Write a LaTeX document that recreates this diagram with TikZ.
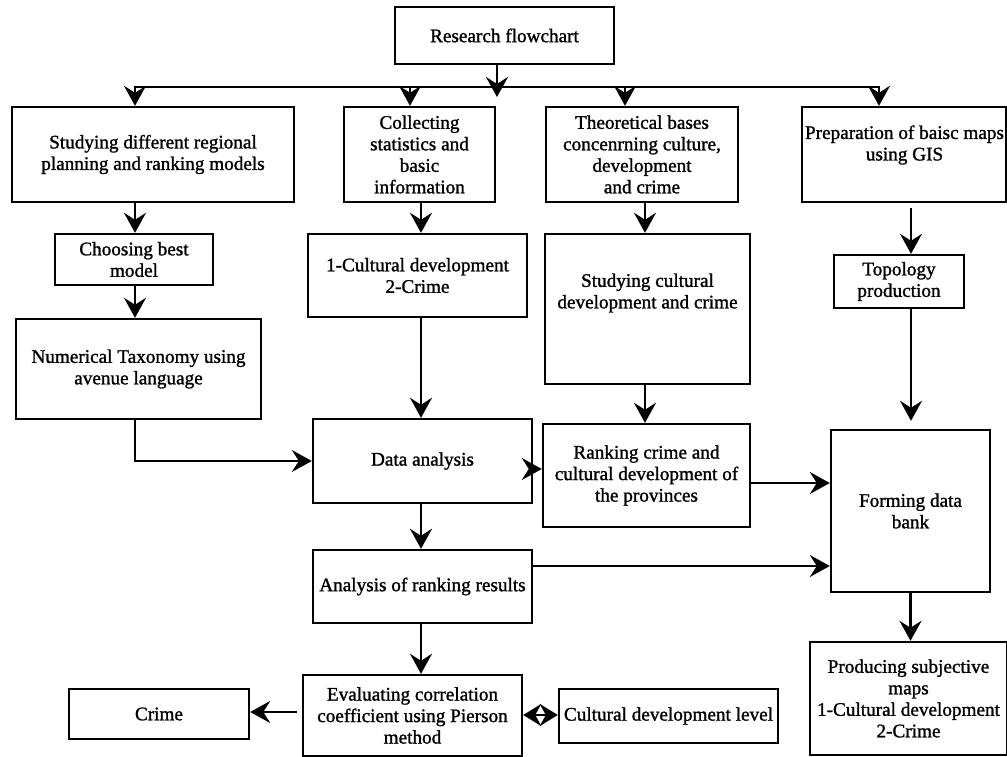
\documentclass[tikz,border=0pt]{standalone}
\usepackage{fontspec}
\setmainfont{Liberation Serif}[FakeBold=1.3]
\usetikzlibrary{arrows.meta}
\tikzset{
  myhead/.tip={Stealth[length=20pt,width=22pt,inset=7pt]},
  dblhead/.tip={Stealth[length=18pt,width=22pt,inset=6pt]},
  box/.style={draw, line width=2.4pt, inner sep=1pt, align=center, font=\fontsize{19.2}{21.5}\selectfont},
  txt/.style={inner sep=0pt, align=center, font=\fontsize{19.2}{21.5}\selectfont},
  arr/.style={line width=2.8pt, -myhead},
  midarr/.style={line width=2.1pt, -myhead},
  dblarr/.style={line width=2.8pt, -dblhead},
  busline/.style={line width=2.8pt, line cap=rect},
}
\begin{document}
\begin{tikzpicture}[x=1pt,y=-1pt]
\useasboundingbox (0,0) rectangle (1007,757);

% boxes
\node[box, minimum width=219pt, minimum height=57pt] (research) at (504.5,35.5) {Research flowchart};
\node[box, minimum width=282pt, minimum height=95pt] (s1) at (153,154.5) {Studying different regional\\planning and ranking models};
\node[box, minimum width=151pt, minimum height=95pt] (collect) at (419.5,154.5) {Collecting\\statistics and\\basic\\information};
\node[box, minimum width=192pt, minimum height=95pt] (theory) at (642,154.5) {Theoretical bases\\concenrning culture,\\development\\and crime};
\node[box, minimum width=204pt, minimum height=95pt] (prep) at (904,154.5) {};
\node[txt] (prept) at (904.5,145) {Preparation of baisc maps\\using GIS};

\node[box, minimum width=158pt, minimum height=51pt] (choose) at (134,259.5) {Choosing best\\model};
\node[box, minimum width=219pt, minimum height=83pt] (cd1) at (417.5,275.5) {1-Cultural development\\2-Crime};
\node[box, minimum width=205pt, minimum height=150pt] (studycd) at (647.5,309) {};
\node[txt] (studycdt) at (647.5,293) {Studying cultural\\development and crime};
\node[box, minimum width=130pt, minimum height=53pt] (topo) at (899,281.5) {Topology\\production};

\node[box, minimum width=245pt, minimum height=100pt] (numtax) at (138.5,369) {Numerical Taxonomy using\\avenue language};
\node[box, minimum width=219pt, minimum height=84pt] (data) at (422.5,461) {Data analysis};
\node[box, minimum width=207pt, minimum height=103pt] (rank) at (646.5,475.5) {Ranking crime and\\cultural development of\\the provinces};
\node[box, minimum width=159pt, minimum height=162pt] (forming) at (910.5,511) {Forming data\\bank};
\node[box, minimum width=219pt, minimum height=73pt] (analysis) at (422.5,586.5) {Analysis of ranking results};

\node[box, minimum width=219pt, minimum height=81pt] (eval) at (412.5,715.5) {Evaluating correlation\\coefficient using Pierson\\method};
\node[box, minimum width=180pt, minimum height=50pt] (crime) at (159,714) {Crime};
\node[box, minimum width=219pt, minimum height=54pt] (cdl) at (668.5,716) {Cultural development level};
\node[box, minimum width=197pt, minimum height=113pt] (produce) at (908.5,698.5) {Producing subjective\\maps\\1-Cultural development\\2-Crime};

% top distribution
\coordinate (rtip) at (497,97);
\draw[arr] (research.south -| rtip) -- (rtip);
\coordinate (busL) at (135,87);
\coordinate (bus2) at (410,87);
\coordinate (bus3) at (625,87);
\coordinate (busR) at (879,87);
\draw[busline] (busL) -- (busR);
\draw[arr] (busL) -- (busL |- s1.north);
\draw[arr] (bus2) -- (bus2 |- collect.north);
\draw[arr] (bus3) -- (bus3 |- theory.north);
\draw[arr] (busR) -- (busR |- prep.north);

% column 1
\draw[arr] (s1.south -| busL) -- (choose.north -| busL);
\draw[arr] (choose.south -| busL) -- (numtax.north -| busL);
\draw[midarr] (numtax.south -| busL) |- (data.west);

% column 2
\coordinate (c2) at (421,0);
\draw[arr] (collect.south -| c2) -- (cd1.north -| c2);
\draw[arr] (cd1.south -| c2) -- (data.north -| c2);
\draw[arr] (data.south -| c2) -- (analysis.north -| c2);
\draw[arr] (analysis.south -| c2) -- (eval.north -| c2);

% column 3
\coordinate (c3) at (645,0);
\draw[arr] (theory.south -| c3) -- (studycd.north -| c3);
\draw[arr] (studycd.south -| c3) -- (rank.north -| c3);

% column 4
\coordinate (c4) at (911,0);
\draw[midarr, shorten <=5pt] (prep.south -| c4) -- (topo.north -| c4);
\draw[midarr, shorten >=8pt] (topo.south -| c4) -- (forming.north -| c4);
\draw[arr] (forming.south) -- (forming.south |- produce.north);

% horizontals
\coordinate (r1) at (0,469);
\coordinate (r2) at (0,483);
\coordinate (r3) at (0,566);
\coordinate (r4) at (0,712);
\coordinate (r5) at (0,715);
\draw[arr] (data.east |- r1) -- (rank.west |- r1);
\draw[midarr] (rank.east |- r2) -- (forming.west |- r2);
\draw[midarr] (analysis.east |- r3) -- (forming.west |- r3);
\draw[arr, shorten <=5pt] (eval.west |- r4) -- (crime.east |- r4);
\coordinate (dm) at (540.5,715);
\draw[dblarr] (dm) -- (eval.east |- r5);
\draw[dblarr] (dm) -- (cdl.west |- r5);
\end{tikzpicture}
\end{document}
